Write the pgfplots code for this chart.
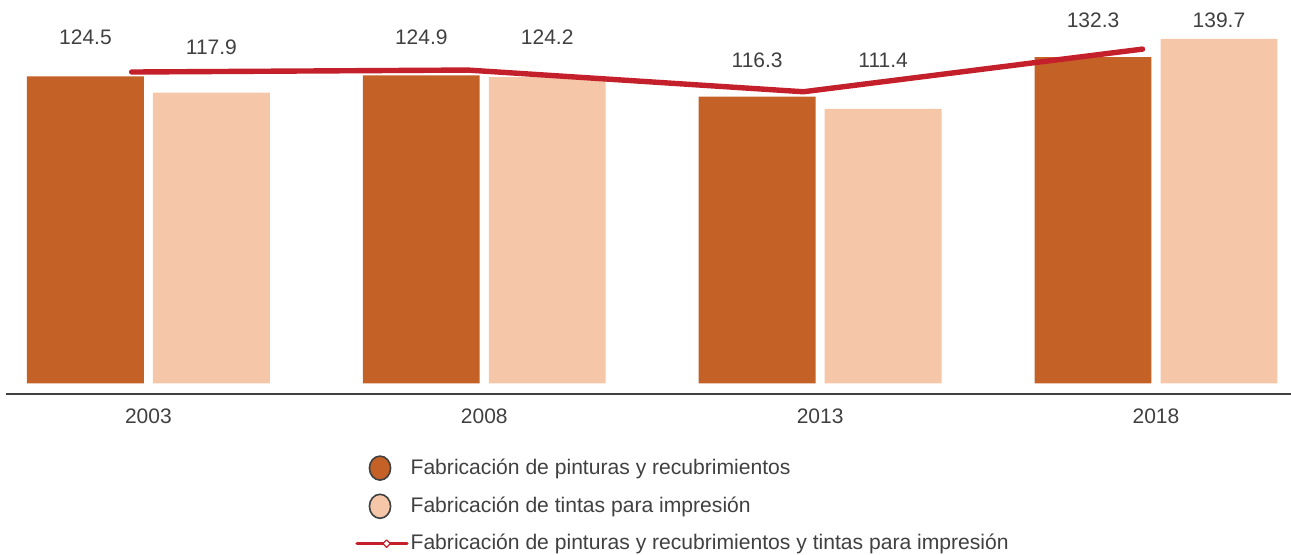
\documentclass[border=0pt]{standalone}
\usepackage{fontspec}
\setmainfont{Liberation Sans}
\usepackage{pgfplots}
\usepackage{pgfplotstable}
\pgfplotsset{compat=1.18}
\usetikzlibrary{shapes.geometric}

\definecolor{barA}{HTML}{C46127}
\definecolor{barB}{HTML}{F5C6A7}
\definecolor{lineC}{HTML}{C4202B}
\definecolor{txt}{HTML}{404040}

% bars: group position, value
\pgfplotstableread{
x   pint  tint
0   124.5 117.9
1   124.9 124.2
2   116.3 111.4
3   132.3 139.7
}\bars

% combined series (drawn slightly left of group centre, as in the source)
\pgfplotstableread{
x     y
-0.05 126.3
0.95  127.1
1.95  118.3
2.96  135.6
}\total

% value labels: x, y position, text
\pgfplotstableread{
x       y     lab
-0.1875 140.4 124.5
0.1875  136.2 117.9
0.8125  140.5 124.9
1.1875  140.5 124.2
1.8125  130.9 116.3
2.1875  130.9 111.4
2.8125  147.4 132.3
3.1875  147.4 139.7
}\labels

\begin{document}
\begin{tikzpicture}
\begin{axis}[
    name=ax,
    scale only axis,
    width=642.5pt, height=196.75pt,
    xmin=-0.424, xmax=3.402,
    ymin=-4.06, ymax=155.5,
    axis y line=none,
    axis x line=bottom,
    x axis line style={-, draw=txt, line width=1pt},
    xtick={0,1,2,3},
    xticklabels={2003,2008,2013,2018},
    major tick length=0pt,
    ytick=\empty,
    tick label style={font=\fontsize{10.5}{12}\selectfont, text=txt},
    xticklabel style={yshift=-4pt},
    clip=false,
    legend cell align=left,
    legend style={
        at={(0.2716,-0.156)}, anchor=north west,
        draw=none, fill=none, inner sep=0pt,
        row sep=6.3pt,
        font=\fontsize{10.55}{12}\selectfont, text=txt,
        nodes={inner sep=1pt},
    },
]
\addplot[ybar, bar width=0.348, bar shift=-0.1875, fill=barA, draw=none,
    legend image code/.code={
        \path[draw=none, fill=none] (0,-6pt) rectangle (25pt,6pt);
        \draw[fill=barA, draw=black!75, line width=0.8pt]
            (11.5pt,0) ellipse [x radius=5.3pt, y radius=6pt];
    }] table[x=x, y=pint] {\bars};
\addlegendentry{Fabricación de pinturas y recubrimientos}

\addplot[ybar, bar width=0.348, bar shift=0.1875, fill=barB, draw=none,
    legend image code/.code={
        \path[draw=none, fill=none] (0,-6pt) rectangle (25pt,6pt);
        \draw[fill=barB, draw=black!75, line width=0.8pt]
            (11.5pt,0) ellipse [x radius=5.3pt, y radius=6pt];
    }] table[x=x, y=tint] {\bars};
\addlegendentry{Fabricación de tintas para impresión}

\addplot[sharp plot, mark=none, draw=lineC, line width=2.7pt,
    line cap=round, line join=round,
    legend image code/.code={
        \path[draw=none, fill=none] (0,-6pt) rectangle (25pt,6pt);
        \draw[lineC, line width=1.6pt] (0,0) -- (25pt,0);
        \node[diamond, draw=lineC, fill=white, line width=0.6pt,
            inner sep=0pt, minimum size=4pt] at (12.5pt,0) {};
    }] table[x=x, y=y] {\total};
\addlegendentry{Fabricación de pinturas y recubrimientos y tintas para impresión}

\addplot[draw=none, mark=none, forget plot,
    nodes near coords, point meta=explicit symbolic,
    nodes near coords style={anchor=center, text=txt,
        font=\fontsize{10.5}{12}\selectfont}]
    table[x=x, y=y, meta=lab] {\labels};
\end{axis}
\pgfresetboundingbox
\path ([xshift=-3pt, yshift=-80.25pt]ax.south west) rectangle (ax.north east);
\end{tikzpicture}
\end{document}
